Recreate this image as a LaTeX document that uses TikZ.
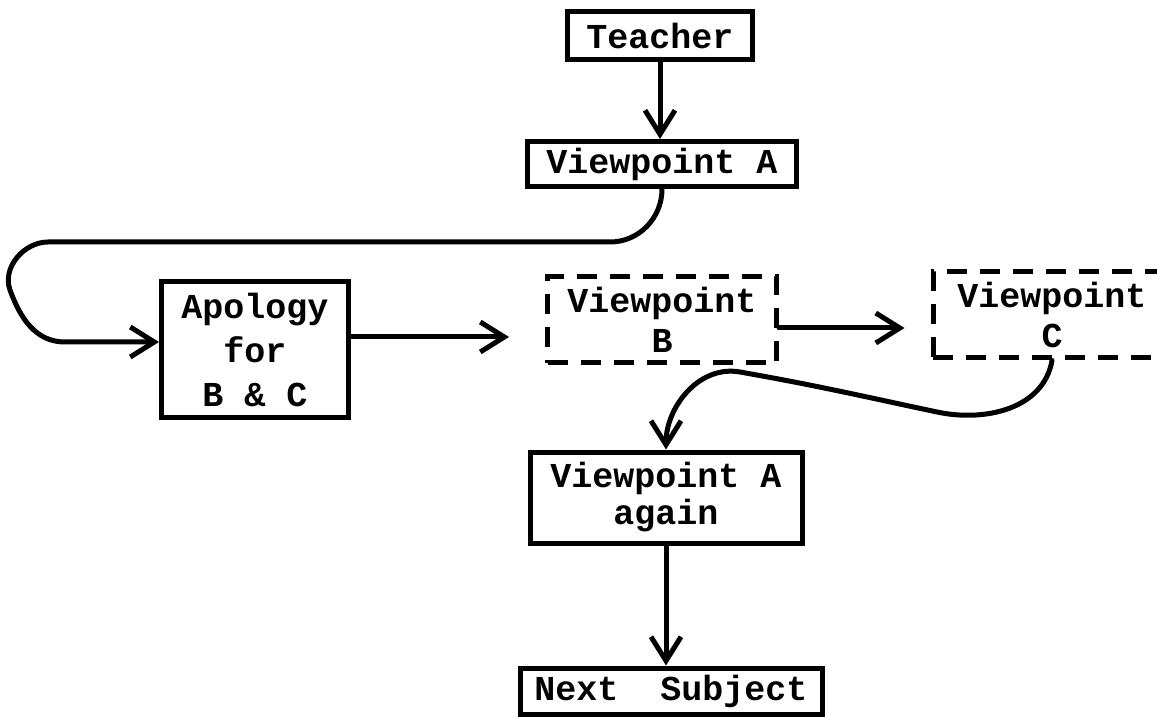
\documentclass[tikz,border=0pt]{standalone}
\usepackage{fontspec}
\setmonofont{Liberation Mono}
\usetikzlibrary{arrows.meta,calc}
\begin{document}
\begin{tikzpicture}[x=1pt,y=1pt,
  ln/.style={line width=5pt,line cap=round,line join=round},
  arr/.style={ln,-{Straight Barb[length=24pt,width=30pt,line width=5pt]}},
  box/.style={draw,line width=5pt,inner sep=0pt,align=center,
    font=\ttfamily\bfseries\fontsize{35}{40}\selectfont},
  dbox/.style={box,dash pattern=on 20pt off 13pt}]
\useasboundingbox (0,0) rectangle (1157,716);
\clip (0,0) rectangle (1157,716);
\node[box,minimum width=185pt,minimum height=48pt] (teacher) at (660,680) {Teacher};
\node[box,minimum width=269pt,minimum height=45pt] (vpa) at (662,552) {Viewpoint A};
\node[box,minimum width=187pt,minimum height=135pt,
  font=\ttfamily\bfseries\fontsize{35}{44}\selectfont] (apol) at (255,366.5) {Apology\\for\\B \& C};
\node[dbox,minimum width=229pt,minimum height=86pt] (vpb) at (662,396) {Viewpoint\\B};
\node[dbox,minimum width=238pt,minimum height=86pt] (vpc) at (1052,401) {Viewpoint\\C};
\node[box,minimum width=272pt,minimum height=91pt,
  font=\ttfamily\bfseries\fontsize{35}{37}\selectfont] (vpaa) at (666,218.5) {Viewpoint A\\again};
\node[box,minimum width=302pt,minimum height=46pt] (next) at (671,25) {Next\ \ Subject};
\coordinate (lp1) at (610,474);
\coordinate (lp2) at (48,474);
\coordinate (lp3) at (10,426);
\coordinate (lp4) at (65,374);
\coordinate (cv1) at (937,304);
\coordinate (cv2) at (740,344);
\draw[arr] (teacher.south) -- (teacher.south |- vpa.north);
\draw[arr] (vpa.south) to[out=-90,in=0] (lp1) -- (lp2) to[out=180,in=110] (lp3)
  to[out=-70,in=180] (lp4) -- ($(apol.west)+(0,7.5)$);
\draw[arr,shorten >=36pt] ($(apol.east)+(0,12.5)$) -- (vpb.west |- {$(apol.east)+(0,12.5)$});
\draw[arr,shorten >=26pt] ($(vpb.east)+(0,-8)$) -- (vpc.west |- {$(vpb.east)+(0,-8)$});
\draw[arr] (vpc.south) to[out=-100,in=-12] (cv1) to[out=168,in=-10] (cv2)
  to[out=170,in=90] (vpaa.north);
\draw[arr] (vpaa.south) -- (vpaa.south |- next.north);
\end{tikzpicture}
\end{document}
